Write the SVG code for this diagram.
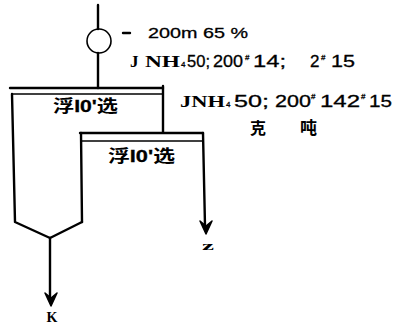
<svg xmlns="http://www.w3.org/2000/svg" width="395" height="327" viewBox="0 0 395 327">
<style>
.ln{fill:none;stroke:#000;stroke-width:2.4;stroke-linecap:round;stroke-linejoin:round}
.thin{fill:none;stroke:#000;stroke-width:1.6}
.t{font-family:"Liberation Sans","Noto Sans CJK SC",sans-serif;fill:#000;stroke:#000;stroke-width:0.3}
.s{font-family:"Liberation Serif","Noto Sans CJK SC",serif;fill:#000;font-weight:bold}
.cj{font-family:"Noto Sans CJK SC",sans-serif;fill:#000;font-weight:bold}
.ah{fill:#000;stroke:#000;stroke-width:1.5;stroke-linejoin:round}
</style>
<rect width="395" height="327" fill="#fff"/>
<g id="feed">
<line class="ln" x1="98" y1="5" x2="98" y2="29"/>
<circle class="thin" cx="99" cy="41" r="12"/>
<line class="ln" x1="98" y1="53" x2="98" y2="88"/>
</g>
<g id="flot1">
<line class="ln" x1="10" y1="88" x2="163" y2="88"/>
<line class="thin" x1="12" y1="94" x2="163" y2="94"/>
<path class="ln" d="M12 94 L15 222 L50 238 L82 222"/>
<line class="ln" x1="163" y1="86" x2="163" y2="132"/>
<text class="cj" x="53" y="112" font-size="17" textLength="65" lengthAdjust="spacingAndGlyphs">浮<tspan class="t" font-weight="bold">I0'</tspan>选</text>
</g>
<g id="flot2">
<line class="ln" x1="80" y1="133" x2="203" y2="133"/>
<line class="thin" x1="80" y1="141" x2="203" y2="141"/>
<line class="ln" x1="81" y1="133" x2="82" y2="222"/>
<text class="cj" x="108" y="162" font-size="17" textLength="67" lengthAdjust="spacingAndGlyphs">浮<tspan class="t" font-weight="bold">I0'</tspan>选</text>
</g>
<g id="connectors">
<line class="ln" x1="203" y1="133" x2="205" y2="226"/>
<path class="ah" d="M200 221 L206 234 L212 221 L206 226 Z"/>
<line class="ln" x1="50" y1="238" x2="50" y2="298"/>
<path class="ah" d="M45 293 L51 306 L57 293 L51 298 Z"/>
</g>
<g id="labels">
<line class="ln" x1="123" y1="33" x2="130" y2="33"/>
<text class="t" x="148" y="38" font-size="15" textLength="100" lengthAdjust="spacingAndGlyphs">200m 65 %</text>
<text class="s" y="67" font-size="17"><tspan x="130">J</tspan><tspan x="145" textLength="35" lengthAdjust="spacingAndGlyphs">NH</tspan></text>
<text class="t" y="67" font-size="17"><tspan x="181" font-size="8">4</tspan><tspan x="187" textLength="23" lengthAdjust="spacingAndGlyphs">50;</tspan><tspan x="213" textLength="30" lengthAdjust="spacingAndGlyphs">200</tspan><tspan x="245" y="60" font-size="8">#</tspan><tspan x="253" y="67" textLength="33" lengthAdjust="spacingAndGlyphs">14;</tspan><tspan x="310">2</tspan><tspan x="321" y="60" font-size="8">#</tspan><tspan x="331" y="67" textLength="24" lengthAdjust="spacingAndGlyphs">15</tspan></text>
<text class="s" y="107" font-size="17"><tspan x="180" textLength="45" lengthAdjust="spacingAndGlyphs">JNH</tspan></text>
<text class="t" y="107" font-size="17"><tspan x="226" font-size="8">4</tspan><tspan x="234" textLength="35" lengthAdjust="spacingAndGlyphs">50;</tspan><tspan x="275" textLength="36" lengthAdjust="spacingAndGlyphs">200</tspan><tspan x="311" y="99" font-size="8">#</tspan><tspan x="320" y="107" textLength="40" lengthAdjust="spacingAndGlyphs">142</tspan><tspan x="361" y="99" font-size="8">#</tspan><tspan x="369" y="107" textLength="23" lengthAdjust="spacingAndGlyphs">15</tspan></text>
<text class="cj" x="250" y="134" font-size="16">克</text>
<text class="cj" x="300" y="134" font-size="17">吨</text>
<text class="s" x="208" y="250" font-size="13" text-anchor="middle" textLength="12" lengthAdjust="spacingAndGlyphs">z</text>
<text class="s" x="52" y="322" font-size="14" text-anchor="middle">K</text>
</g>
</svg>
